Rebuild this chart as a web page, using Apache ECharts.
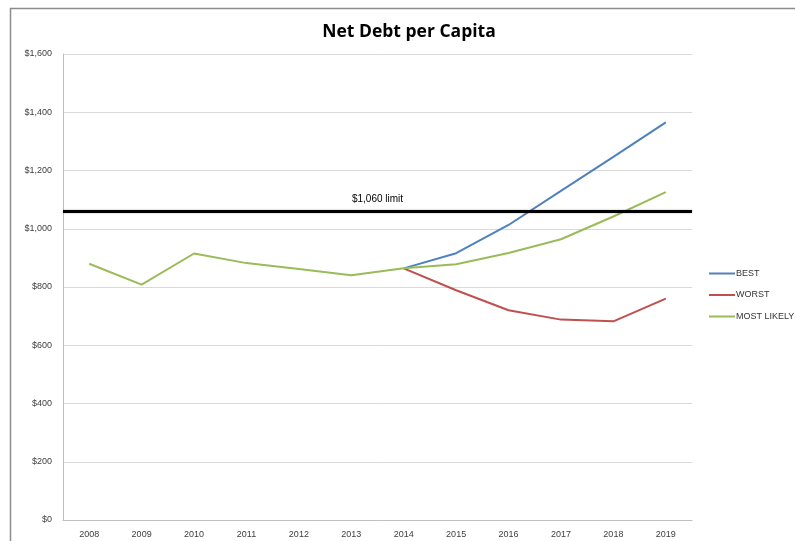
<!DOCTYPE html>
<html>
<head>
<meta charset="utf-8">
<script src="https://cdn.jsdelivr.net/npm/echarts@6/dist/echarts.min.js"></script>
<style>
  html, body { margin: 0; padding: 0; background: #fff; }
  #chart { width: 795px; height: 541px; }
</style>
</head>
<body>
<div id="chart"></div>
<script>
// Fiscal years on the category axis
var years = ['2008','2009','2010','2011','2012','2013','2014','2015','2016','2017','2018','2019'];

// Actual net debt per capita, 2008-2014 (dollars)
var actualDebt = [880, 808, 915, 882, 862, 840, 864];

// Projected net debt per capita, 2015-2019, per scenario (dollars)
var bestProj       = [916, 1013, 1130, 1247, 1365];
var worstProj      = [789, 720, 688, 682, 760];
var mostLikelyProj = [878, 917, 964, 1042, 1126];

// Debt limit
var limitValue = 1060;
var limitLabel = '$1,060 limit';

var font = 'Liberation Sans, Arial, sans-serif';

// Projections branch off the last actual year; the shared actuals are drawn once
function branch(proj) {
  var out = [];
  for (var i = 0; i < actualDebt.length - 1; i++) out.push(null);
  out.push(actualDebt[actualDebt.length - 1]);
  return out.concat(proj);
}
var best = branch(bestProj);
var worst = branch(worstProj);
var mostLikely = actualDebt.concat(mostLikelyProj);

var chart = echarts.init(document.getElementById('chart'), null, { renderer: 'canvas' });

chart.setOption({
  animation: false,
  backgroundColor: '#ffffff',
  title: {
    text: 'Net Debt per Capita',
    left: 404,
    top: 18,
    textAlign: 'center',
    textStyle: { fontFamily: 'Open Sans, Liberation Sans, sans-serif', fontSize: 17.5, fontWeight: 'bold', color: '#000' }
  },
  graphic: [{
    type: 'rect',
    shape: { x: 10.5, y: 8.5, width: 900, height: 700 },
    style: { fill: 'none', stroke: '#8c8c8c', lineWidth: 1.5 },
    silent: true
  }],
  legend: {
    orient: 'vertical',
    left: 704,
    top: 264,
    itemGap: 12.5,
    itemWidth: 26,
    itemHeight: 2,
    icon: 'rect',
    textStyle: { fontFamily: font, fontSize: 9, color: '#333', padding: [0, 0, 0, -4] },
    data: ['BEST', 'WORST', 'MOST LIKELY']
  },
  grid: { left: 63, right: 103, top: 54, bottom: 21, containLabel: false },
  xAxis: {
    type: 'category',
    data: years,
    boundaryGap: true,
    axisLine: { lineStyle: { color: '#bfbfbf', width: 1 } },
    axisTick: { show: false },
    axisLabel: { fontFamily: font, fontSize: 9, color: '#404040', margin: 10 }
  },
  yAxis: {
    type: 'value',
    min: 0,
    max: 1600,
    interval: 200,
    axisLine: { show: true, lineStyle: { color: '#bfbfbf', width: 1 } },
    axisTick: { show: false },
    splitLine: { lineStyle: { color: '#d9d9d9', width: 1 } },
    axisLabel: {
      fontFamily: font, fontSize: 9, color: '#404040', margin: 11,
      formatter: function (v) { return '$' + v.toLocaleString('en-US'); }
    }
  },
  series: [
    {
      name: 'BEST', type: 'line', data: best, symbol: 'none',
      lineStyle: { color: '#4f81bd', width: 2 }, itemStyle: { color: '#4f81bd' }
    },
    {
      name: 'WORST', type: 'line', data: worst, symbol: 'none',
      lineStyle: { color: '#c0504d', width: 2 }, itemStyle: { color: '#c0504d' }
    },
    {
      name: 'MOST LIKELY', type: 'line', data: mostLikely, symbol: 'none',
      lineStyle: { color: '#9bbb59', width: 2 }, itemStyle: { color: '#9bbb59' },
      markLine: {
        silent: true,
        symbol: 'none',
        lineStyle: { color: '#000', width: 3, type: 'solid', shadowColor: 'rgba(0,0,0,0.35)', shadowBlur: 2 },
        label: {
          show: true, position: 'middle', formatter: limitLabel,
          fontFamily: font, fontSize: 10, color: '#000', distance: 7
        },
        data: [{ yAxis: limitValue }]
      }
    }
  ]
});
</script>
</body>
</html>
